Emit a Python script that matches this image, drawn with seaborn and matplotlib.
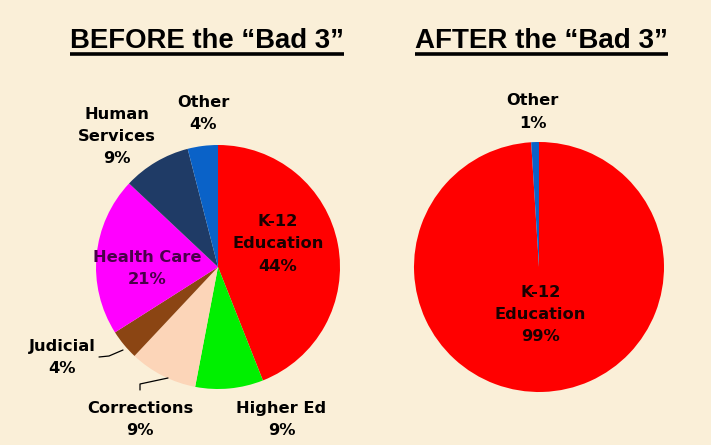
import matplotlib
matplotlib.use("Agg")
import matplotlib.pyplot as plt
import seaborn as sns

# data
before_labels = ["K-12\nEducation", "Higher Ed", "Corrections", "Judicial",
                 "Health Care", "Human\nServices", "Other"]
before_values = [44, 9, 9, 4, 21, 9, 4]
before_colors = ["#FF0000", "#00F000", "#FCD5B8", "#8B4513",
                 "#FF00FF", "#1F3B66", "#0A62C8"]

after_labels = ["K-12\nEducation", "Other"]
after_values = [99, 1]
after_colors = ["#FF0000", "#0A62C8"]

titles = ["BEFORE the \u201cBad 3\u201d", "AFTER the \u201cBad 3\u201d"]

sns.set_theme(style="white")
plt.rcParams["font.family"] = ["Liberation Sans", "DejaVu Sans"]

BG = "#FAEFD8"
W, H = 711, 445
fig = plt.figure(figsize=(W / 100, H / 100), dpi=100, facecolor=BG)
ax = fig.add_axes([0, 0, 1, 1])
ax.set_facecolor(BG)

# layout: pie centres/radii in pixels (y up), label offsets in radius units
left_c, left_r = (218, 178), 122
right_c, right_r = (539, 178), 125

before_pos = [(0.49, 0.19), (0.52, -1.25), (-0.64, -1.25), (-1.28, -0.74),
              (-0.58, -0.01), (-0.83, 1.07), (-0.12, 1.26)]
before_text_colors = ["#1a0000", "black", "black", "black", "#4a004a", "black", "black"]
after_pos = [(0.01, -0.38), (-0.05, 1.24)]
after_text_colors = ["#1a0000", "black"]


def draw_pie(values, labels, colors, center, radius, pos, tcolors):
    ax.pie(values, colors=colors, startangle=90, counterclock=False,
           center=center, radius=radius, frame=True,
           wedgeprops=dict(linewidth=0))
    for lab, v, (dx, dy), tc in zip(labels, values, pos, tcolors):
        ax.text(center[0] + dx * radius, center[1] + dy * radius,
                f"{lab}\n{v}%", ha="center", va="center", ma="center",
                fontsize=11.7, fontweight="bold", color=tc, linespacing=1.6,
                family="DejaVu Sans")


draw_pie(before_values, before_labels, before_colors, left_c, left_r,
         before_pos, before_text_colors)
draw_pie(after_values, after_labels, after_colors, right_c, right_r,
         after_pos, after_text_colors)

ax.set_xlim(0, W)
ax.set_ylim(0, H)
ax.set_aspect("equal")
ax.axis("off")

# leader lines for the small slices (pixel coords, y down)
for pts in [[(99, 357), (109, 356), (123, 350)],
            [(140, 390), (140, 384), (168, 378)]]:
    ax.plot([p[0] for p in pts], [H - p[1] for p in pts], color="black", lw=0.9)

# underlined titles
title_left = [70, 415]
title_right = [344, 668]
renderer = fig.canvas.get_renderer()
for x0, x1, t in zip(title_left, title_right, titles):
    txt = ax.text(x0, H - 48, t, ha="left", va="baseline", fontsize=20,
                  fontweight="bold", color="black")
    w = txt.get_window_extent(renderer=renderer).width
    txt.set_fontsize(20 * (x1 - x0) / w)
    ax.plot([x0, x1], [H - 53.5, H - 53.5], color="black", lw=2.6,
            solid_capstyle="butt")

fig.savefig("out.png", dpi=100, facecolor=BG)
